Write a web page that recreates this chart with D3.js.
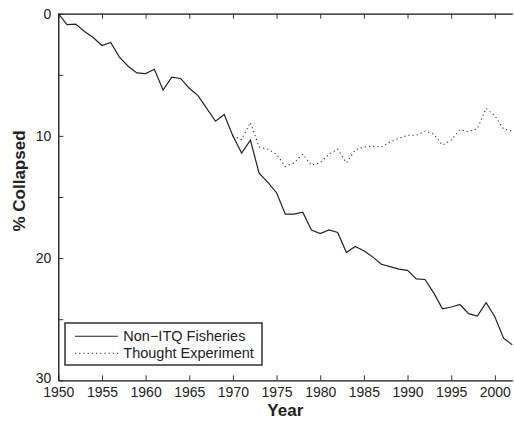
<!DOCTYPE html>
<html>
<head>
<meta charset="utf-8">
<script src="https://cdn.jsdelivr.net/npm/d3@7"></script>
<style>
  body { margin: 0; background: #fff; }
  svg { display: block; font-family: "Liberation Sans", Arial, sans-serif; }
</style>
</head>
<body>
<div id="chart"></div>
<script>
// data
const years = d3.range(1950, 2003);
const nonItq = [
  0, 0.9, 0.85, 1.45, 1.95, 2.6, 2.35, 3.55, 4.3, 4.85,
  4.9, 4.55, 6.25, 5.2, 5.3, 6.1, 6.7, 7.75, 8.8, 8.25,
  10.0, 11.4, 10.35, 13.05, 13.8, 14.65, 16.4, 16.4, 16.25, 17.7,
  18.0, 17.7, 17.9, 19.55, 19.05, 19.4, 19.9, 20.5, 20.7, 20.9,
  21.0, 21.7, 21.75, 22.85, 24.15, 24.0, 23.8, 24.55, 24.75, 23.65,
  24.8, 26.55, 27.1
];
const thoughtYears = d3.range(1970, 2003);
const thought = [
  10.0, 10.3, 8.9, 10.9, 11.1, 11.5, 12.5, 12.2, 11.5, 12.4,
  12.2, 11.5, 11.1, 12.2, 11.15, 10.9, 10.85, 10.9, 10.5, 10.2,
  9.95, 9.95, 9.6, 9.85, 10.75, 10.35, 9.5, 9.65, 9.4, 7.75,
  8.35, 9.45, 9.6
];
const xTicks = [1950, 1955, 1960, 1965, 1970, 1975, 1980, 1985, 1990, 1995, 2000];
const yTicks = [0, 5, 10, 15, 20, 25, 30];
const yLabels = [0, 10, 20, 30];
const seriesNames = ['Non\u2212ITQ Fisheries', 'Thought Experiment'];

const width = 514, height = 422;
const mLeft = 58.3, mRight = 512.3, mTop = 13.7, mBottom = 380.3;

const svg = d3.select('#chart').append('svg')
  .attr('width', width)
  .attr('height', height);

const x = d3.scaleLinear().domain([1950, 2002]).range([mLeft, mRight]);
const y = d3.scaleLinear().domain([0, 30]).range([mTop, mBottom]);  // inverted: 0 on top

// lines
const line = d3.line()
  .x(d => x(d[0]))
  .y(d => y(d[1]));

svg.append('path')
  .datum(thoughtYears.map((yr, i) => [yr, thought[i]]))
  .attr('d', line)
  .attr('fill', 'none')
  .attr('stroke', '#333')
  .attr('stroke-width', 1.1)
  .attr('stroke-dasharray', '1.2,3');

svg.append('path')
  .datum(years.map((yr, i) => [yr, nonItq[i]]))
  .attr('d', line)
  .attr('fill', 'none')
  .attr('stroke', '#222')
  .attr('stroke-width', 1.2);

// axes (MATLAB style, ticks inward)
const xAxis = svg.append('g')
  .attr('transform', `translate(0, ${mBottom})`)
  .call(d3.axisBottom(x).tickValues(xTicks).tickFormat(d3.format('d')).tickSizeInner(-5).tickSizeOuter(0).tickPadding(7));

const xTop = svg.append('g')
  .attr('transform', `translate(0, ${mTop})`)
  .call(d3.axisTop(x).tickValues(xTicks).tickFormat('').tickSizeInner(-5).tickSizeOuter(0));

const yAxis = svg.append('g')
  .attr('transform', `translate(${mLeft}, 0)`)
  .call(d3.axisLeft(y).tickValues(yTicks)
    .tickFormat(d => yLabels.includes(d) ? d : '')
    .tickSizeInner(-5).tickSizeOuter(0).tickPadding(7));

// the bottom label sits a bit higher so it clears "1950"
yAxis.selectAll('.tick text').filter(d => d === 30).attr('dy', '0.15em');

[xAxis, xTop, yAxis].forEach(g => {
  g.selectAll('.domain').attr('stroke', '#111').attr('stroke-width', 1.3);
  g.selectAll('.tick line').attr('stroke', '#333');
  g.selectAll('.tick text').attr('font-size', 14).attr('fill', '#222')
    .attr('font-family', '"Liberation Sans", Arial, sans-serif');
});

// axis labels
svg.append('text')
  .attr('x', (mLeft + mRight) / 2)
  .attr('y', 416)
  .attr('text-anchor', 'middle')
  .attr('font-size', 17)
  .attr('font-weight', 'bold')
  .attr('fill', '#222')
  .text('Year');

svg.append('text')
  .attr('transform', 'translate(25, 181) rotate(-90)')
  .attr('text-anchor', 'middle')
  .attr('font-size', 17)
  .attr('font-weight', 'bold')
  .attr('fill', '#222')
  .text('% Collapsed');

// legend
const legend = svg.append('g');
legend.append('rect')
  .attr('x', 65).attr('y', 323)
  .attr('width', 197).attr('height', 42)
  .attr('fill', '#fff')
  .attr('stroke', '#111')
  .attr('stroke-width', 1.3);

const dashes = [null, '1.2,3'];
seriesNames.forEach((name, i) => {
  const ry = 336.3 + i * 17;
  legend.append('line')
    .attr('x1', 75).attr('x2', 118)
    .attr('y1', ry).attr('y2', ry)
    .attr('stroke', '#222')
    .attr('stroke-width', 1.1)
    .attr('stroke-dasharray', dashes[i]);
  legend.append('text')
    .attr('x', 123.3)
    .attr('y', ry)
    .attr('dy', '0.35em')
    .attr('font-size', 14.5)
    .attr('fill', '#222')
    .text(name);
});
</script>
</body>
</html>
